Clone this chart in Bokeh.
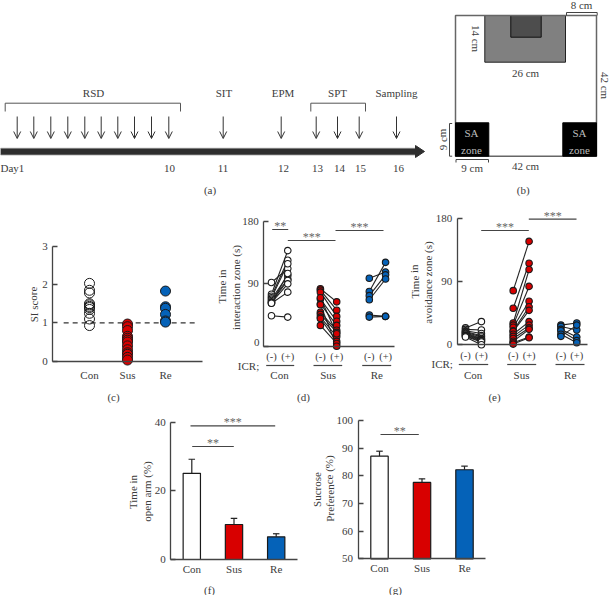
from bokeh.plotting import figure
from bokeh.embed import file_html
from bokeh.resources import INLINE
from bokeh.core.properties import value
from bokeh.models import Range1d, LinearAxis, FixedTicker, Arrow, OpenHead, ColumnDataSource

# ---------- data ----------
groups = ["Con", "Sus", "Re"]
si_con = [2.03, 1.85, 1.78, 1.5, 1.47, 1.43, 1.4, 1.35, 1.25, 1.1, 0.93]
si_sus = [0.97, 0.9, 0.8, 0.65, 0.6, 0.55, 0.5, 0.4, 0.3, 0.22, 0.18, 0.1, 0.03]
si_re = [1.83, 1.42, 1.38, 1.22, 1.05, 1.02]

int_con_minus = [44, 92, 75, 72, 70, 68, 66, 64, 63, 62, 62]
int_con_plus = [42, 112, 138, 124, 119, 102, 97, 95, 90, 78, 105]
int_sus_minus = [83, 81, 78, 68, 61, 49, 46, 42, 40, 30, 60, 70]
int_sus_plus = [64, 52, 43, 36, 30, 23, 20, 14, 7, 4, 0, 18]
int_re_minus = [98, 79, 73, 67, 45, 42]
int_re_plus = [107, 121, 103, 97, 43, 43]

av_con_minus = [24, 22, 20, 19, 18, 17, 16, 15, 14, 13, 12, 11]
av_con_plus = [33, 21, 16, 13, 11, 9, 8, 7, 6, 5, 4, 0]
av_sus_minus = [77, 52, 31, 28, 25, 20, 19, 15, 12, 9, 5, 3, 1]
av_sus_plus = [147, 116, 107, 83, 62, 54, 49, 33, 28, 24, 22, 11, 10]
av_re_minus = [28, 26, 22, 20, 15, 12]
av_re_plus = [31, 21, 11, 6, 3, 28]

open_arm = [25.1, 10.2, 6.6]
open_arm_top = [29.2, 12.0, 7.5]
sucrose = [87.1, 77.6, 82.2]
sucrose_top = [88.9, 78.9, 83.5]

# ---------- styles ----------
FONT = "Liberation Serif"
TXT = "#3c3c3c"
AX = "#444444"
EDGE = "#1a1a1a"
RED = "#d80000"
BLUE = "#0562b8"
W, H = 610, 595

p = figure(width=W, height=H, x_range=(0, W), y_range=(H, 0), x_axis_type=None, y_axis_type=None,
           output_backend="svg", toolbar_location=None, min_border=0, outline_line_color=None)
p.grid.visible = False
p.styles = {"position": "absolute", "left": "0px", "top": "0px"}


def linmap(px0, v0, px1, v1, lo, hi):
    k = (v1 - v0) / (px1 - px0)
    return Range1d(start=v0 + (lo - px0) * k, end=v0 + (hi - px0) * k)


def panel(name, xa, ya):
    p.extra_x_ranges[name] = linmap(*xa, 0, W)
    p.extra_y_ranges[name] = linmap(*ya, H, 0)


def axes(name, x_ticks, x_labels, x_bounds, y_ticks, y_bounds, xs=8, x_size="11px", y_over=None):
    ax = LinearAxis(x_range_name=name, y_range_name=name, ticker=FixedTicker(ticks=x_ticks),
                    major_label_overrides=dict(zip(x_ticks, x_labels)), bounds=x_bounds,
                    fixed_location=y_bounds[0], major_tick_in=0, major_tick_out=0, minor_tick_in=0,
                    minor_tick_out=0, axis_line_color=AX, axis_line_width=1.3, major_label_standoff=xs,
                    major_label_text_font=FONT, major_label_text_font_size=x_size, major_label_text_color=TXT)
    p.add_layout(ax, "below")
    ay = LinearAxis(x_range_name=name, y_range_name=name, ticker=FixedTicker(ticks=y_ticks), bounds=y_bounds,
                    fixed_location=x_bounds[0], major_tick_in=5, major_tick_out=0, minor_tick_in=0,
                    minor_tick_out=0, major_tick_line_color=AX, major_tick_line_width=1.3,
                    axis_line_color=AX, axis_line_width=1.3, major_label_standoff=5,
                    major_label_overrides=y_over or {},
                    major_label_text_font=FONT, major_label_text_font_size="11px", major_label_text_color=TXT)
    p.add_layout(ay, "left")


def label(x, y, text, angle=0.0, size="11px", color=TXT, align="center"):
    p.text(x, y, text=[text], angle=angle, text_font=value(FONT), text_font_size=size, text_color=color,
           text_align=align, text_baseline="middle")


def seg(x0, y0, x1, y1, color=AX, w=1.2):
    p.segment(x0, y0, x1, y1, line_color=color, line_width=w)


def sig(x0, x1, y, stars):
    seg([x0], [y], [x1], [y])
    label((x0 + x1) / 2, y - 3.5, stars, size="12px", color="#666666")


# ---------- (a) timeline ----------
p.quad(left=[0], right=[415], top=[147.8], bottom=[154.4], fill_color="#2e2e2e", line_color="#8a8a8a", line_width=0.8)
p.patch([415, 424, 415], [145, 151, 157], fill_color="#2e2e2e", line_color="#2e2e2e")
arrow_x = [16.7, 33.3, 50.3, 67.3, 84.3, 100.7, 117.3, 134, 151, 168.3, 222.7, 280.7, 315.7, 337, 358.7, 396]
src = ColumnDataSource(dict(x0=arrow_x, x1=arrow_x, y0=[116] * len(arrow_x), y1=[138] * len(arrow_x)))
p.add_layout(Arrow(end=OpenHead(size=7, line_width=1, line_color="#333333"), x_start="x0", x_end="x1",
                   y_start="y0", y_end="y1", source=src, line_color="#333333", line_width=1))
for a, b in [(4.7, 180), (310.3, 365)]:
    p.line([a, a, b, b], [111, 102.7, 102.7, 111], line_color="#555555", line_width=1)
for t, x in [("RSD", 93), ("SIT", 223.5), ("EPM", 282.5), ("SPT", 337), ("Sampling", 396)]:
    label(x, 92.5, t)
label(0, 167.5, "Day1", align="left")
for t, x in [("10", 169), ("11", 222.5), ("12", 283), ("13", 317), ("14", 339), ("15", 360), ("16", 398)]:
    label(x, 167.5, t)
label(209.5, 189, "(a)")

# ---------- (b) arena ----------
p.quad(left=[484.3], right=[565], top=[15], bottom=[61.7], fill_color="#808080", line_color="#222222", line_width=1)
p.quad(left=[510.3], right=[540.7], top=[15], bottom=[36.7], fill_color="#4d4d4d", line_color="#111111", line_width=1)
p.quad(left=[455], right=[596], top=[15], bottom=[155.7], fill_color=None, line_color="#666666", line_width=1.5)
p.quad(left=[455, 562.3], right=[488.3, 596], top=[122.3, 122.3], bottom=[155.7, 155.7], fill_color="#000000", line_color="#000000")
for cx in (471, 579):
    label(cx, 132, "SA", color="#bcbcbc")
    label(cx, 149, "zone", color="#bcbcbc")
p.line([566, 566, 596.7, 596.7], [15, 12, 12, 15], line_color="#444444", line_width=1)
p.line([451.7, 449, 449, 451.7], [123, 123, 155.7, 155.7], line_color="#444444", line_width=1)
p.line([455.5, 455.5, 488, 488], [162, 159, 159, 162], line_color="#444444", line_width=1)
label(581, 4.5, "8 cm")
label(475, 38, "14 cm", angle=-1.5708)
label(525, 72, "26 cm")
label(604.5, 85, "42 cm", angle=-1.5708)
label(442, 139, "9 cm", angle=1.5708)
label(471.7, 167.5, "9 cm")
label(525, 165, "42 cm")
label(522.7, 189, "(b)")

# ---------- (c) SI score ----------
panel("c", (89, 0, 165, 2), (360.7, 0, 245.7, 3))
axes("c", [0, 1, 2], groups, (-0.97, 2.97), [0, 1, 2, 3], (0, 3), xs=8)
p.line([-0.68, 2.84], [1, 1], x_range_name="c", y_range_name="c", line_color="#333333", line_width=1.1, line_dash="5 4")
for i, (vals, col, alpha) in enumerate([(si_con, "#ffffff", 0.0), (si_sus, RED, 1.0), (si_re, BLUE, 1.0)]):
    p.scatter([i] * len(vals), vals, x_range_name="c", y_range_name="c", size=10, fill_color=col, fill_alpha=alpha,
              line_color=EDGE, line_width=1)
label(33, 304, "SI score", angle=1.5708)
label(113, 396.7, "(c)")

# ---------- (d) / (e) paired ----------
pairs_d = [(int_con_minus, int_con_plus, 0, "#ffffff"), (int_sus_minus, int_sus_plus, 3, RED), (int_re_minus, int_re_plus, 6, BLUE)]
pairs_e = [(av_con_minus, av_con_plus, 0, "#ffffff"), (av_sus_minus, av_sus_plus, 3, RED), (av_re_minus, av_re_plus, 6, BLUE)]


def paired(name, pairs):
    for m, pl, x, col in pairs:
        p.segment([x] * len(m), m, [x + 1] * len(m), pl, x_range_name=name, y_range_name=name, line_color="#222222", line_width=1.1)
    for m, pl, x, col in pairs:
        p.scatter([x] * len(m) + [x + 1] * len(pl), m + pl, x_range_name=name, y_range_name=name, size=6.5,
                  fill_color=col, line_color=EDGE, line_width=1.1)


x_pos = [0, 1, 3, 4, 6, 7]
x_lab = ["(-)", "(+)"] * 3

panel("d", (271, 0, 385.1, 7), (345.7, 0, 221, 180))
axes("d", x_pos, x_lab, (-0.47, 7.55), [0, 90, 180], (0, 180), xs=5, x_size="10.5px", y_over={0: ""})
paired("d", pairs_d)
label(259, 341.7, "0", align="right")
label(221.7, 286, "Time in", angle=1.5708)
label(235.7, 287, "interaction zone (s)", angle=1.5708)
label(248, 365, "ICR;")
for a, b, t, c in [(265.7, 293.7, "Con", 279), (313, 341.7, "Sus", 327.7), (361.7, 390.7, "Re", 376.3)]:
    seg([a], [365], [b], [365])
    label(c, 374.5, t)
sig(271.7, 287.7, 229, "**")
sig(287.3, 335, 240, "***")
sig(335, 383, 230, "***")
label(303, 396.7, "(d)")

panel("e", (465, 0, 576.3, 7), (344.3, 0, 217.7, 180))
axes("e", x_pos, x_lab, (-0.52, 7.65), [0, 90, 180], (0, 180), xs=5, x_size="10.5px")
paired("e", pairs_e)
label(414, 281, "Time in", angle=1.5708)
label(427.7, 282, "avoidance zone (s)", angle=1.5708)
label(441.7, 363.5, "ICR;")
for a, b, t, c in [(458.3, 487.7, "Con", 472.7), (506.7, 535.7, "Sus", 521), (555, 584, "Re", 569.7)]:
    seg([a], [364], [b], [364])
    label(c, 374.5, t)
sig(480.7, 528.3, 230, "***")
sig(528.3, 576, 218.7, "***")
label(494, 396.7, "(e)")


# ---------- (f) / (g) bars ----------
def bars(name, vals, tops, base):
    x = [0, 1, 2]
    p.segment(x, vals, x, tops, x_range_name=name, y_range_name=name, line_color="#222222", line_width=1.2)
    p.scatter(x, tops, x_range_name=name, y_range_name=name, marker="dash", size=6.5, line_color="#222222", line_width=1.2)
    p.vbar(x=x, top=vals, bottom=base, width=0.41, x_range_name=name, y_range_name=name,
           fill_color=["#ffffff", RED, BLUE], line_color=EDGE, line_width=1.2)


panel("f", (191.3, 0, 275.7, 2), (559, 0, 421.7, 40))
axes("f", [0, 1, 2], groups, (-0.5, 2.5), [0, 20, 40], (0, 40), xs=3)
bars("f", open_arm, open_arm_top, 0)
label(132.7, 491.5, "Time in", angle=1.5708)
label(146.7, 491, "open arm (%)", angle=1.5708)
sig(190, 274.7, 425.3, "***")
sig(191.7, 233.3, 446, "**")
label(209, 589, "(f)")

panel("g", (379, 0, 464, 2), (558.3, 50, 420, 100))
axes("g", [0, 1, 2], groups, (-0.505, 2.49), [50, 60, 70, 80, 90, 100], (50, 100), xs=3)
bars("g", sucrose, sucrose_top, 50)
label(316.7, 489, "Sucrose", angle=1.5708)
label(329, 488, "Preference (%)", angle=1.5708)
sig(380, 418.3, 434, "**")
label(395, 589, "(g)")

open("out.html", "w").write(file_html(p, INLINE))
